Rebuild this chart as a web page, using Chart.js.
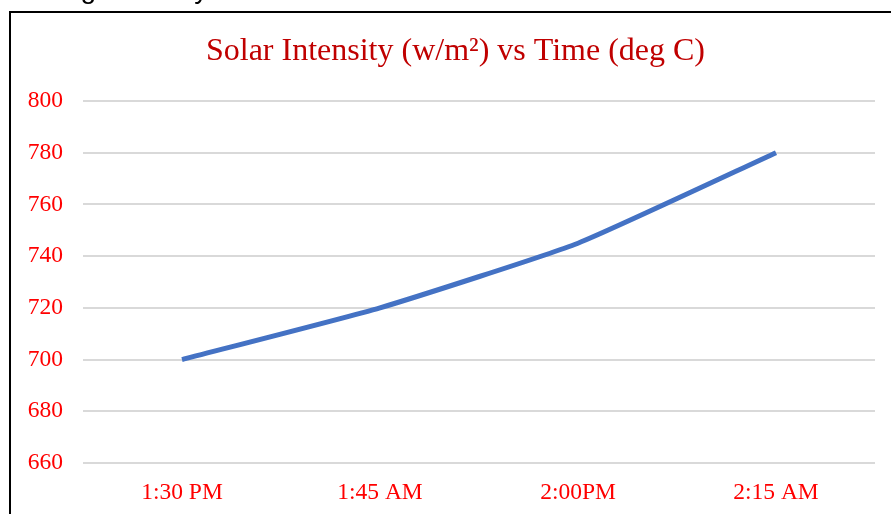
<!DOCTYPE html>
<html>
<head>
<meta charset="utf-8">
<script src="https://cdn.jsdelivr.net/npm/chart.js@4.4.1/dist/chart.umd.min.js"></script>
<style>
  html, body { margin: 0; padding: 0; background: #fff; }
  #wrap { width: 891px; height: 514px; position: relative; }
</style>
</head>
<body>
<div id="wrap"><canvas id="solarChart" width="891" height="514"></canvas></div>
<script>
// Chart data
const timeLabels = ['1:30 PM', '1:45 AM', '2:00PM', '2:15 AM'];
const solarIntensity = [700, 720, 745, 780];
const yTicks = { min: 660, max: 800, step: 20 };
const chartTitle = 'Solar Intensity (w/m²) vs Time (deg C)';

const serif = '"Liberation Serif", "Times New Roman", serif';

// White page, the black frame of the embedded chart, the clipped caption above it
// and the title, centred on the frame rather than on the canvas
const framePlugin = {
    id: 'frame',
    beforeDraw(chart) {
        const ctx = chart.ctx;
        ctx.save();
        ctx.fillStyle = '#fff';
        ctx.fillRect(0, 0, chart.width, chart.height);
        ctx.fillStyle = '#000';
        ctx.font = '28px "Liberation Sans", Arial, sans-serif';
        ctx.textBaseline = 'alphabetic';
        ctx.fillText('Morning Intensity', -5, -2);
        ctx.strokeStyle = '#000';
        ctx.lineWidth = 2;
        ctx.strokeRect(10, 12, 950, 600);

        ctx.fillStyle = '#C00000';
        ctx.font = '32px ' + serif;
        ctx.textAlign = 'center';
        ctx.textBaseline = 'middle';
        ctx.fillText(chartTitle, 455.5, 52);
        ctx.restore();
    }
};

const ctx = document.getElementById('solarChart').getContext('2d');
new Chart(ctx, {
    type: 'line',
    data: {
        labels: timeLabels,
        datasets: [{
            label: 'Solar Intensity',
            data: solarIntensity,
            borderColor: '#4472C4',
            borderWidth: 5,
            pointRadius: 0,
            tension: 0.15,
            fill: false
        }]
    },
    options: {
        responsive: false,
        animation: false,
        layout: { padding: { left: 0, right: 16, top: 101, bottom: 0 } },
        plugins: {
            legend: { display: false },
            tooltip: { enabled: false },
            title: { display: false }
        },
        scales: {
            x: {
                offset: true,
                grid: { display: false },
                border: { display: false },
                ticks: {
                    color: '#FF0000',
                    font: { family: serif, size: 23.5 },
                    padding: 8,
                    maxRotation: 0
                },
                afterFit(scale) { scale.height = 51; }
            },
            y: {
                min: yTicks.min,
                max: yTicks.max,
                grid: { color: '#D9D9D9', lineWidth: 2, drawTicks: false },
                border: { display: false },
                ticks: {
                    stepSize: yTicks.step,
                    color: '#FF0000',
                    font: { family: serif, size: 23.5 },
                    padding: 20
                },
                afterFit(scale) { scale.width = 83; }
            }
        }
    },
    plugins: [framePlugin]
});
</script>
</body>
</html>
